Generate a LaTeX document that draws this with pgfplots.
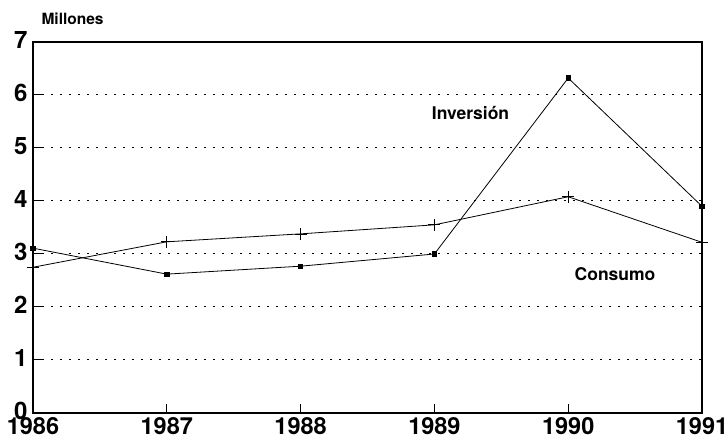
\documentclass[border=0pt]{standalone}
\usepackage{fontspec}
\setmainfont{TeX Gyre Heros}
\usepackage{pgfplots}
\pgfplotsset{compat=1.18}
\begin{document}
\begin{tikzpicture}
\begin{axis}[
  name=ax,
  scale only axis,
  width=669pt, height=371pt,
  xmin=1986, xmax=1991, ymin=0, ymax=7,
  xtick={1986,1987,1988,1989,1990,1991},
  ytick={0,1,2,3,4,5,6,7},
  x tick label style={/pgf/number format/1000 sep={}, font=\fontsize{23.5}{23.5}\selectfont\bfseries, yshift=-1pt},
  y tick label style={font=\fontsize{24}{24}\selectfont\bfseries, xshift=-2pt, yshift=2pt},
  /pgf/number format/assume math mode=true,
  tick align=inside, tick pos=left,
  major tick length=9pt,
  ymajorgrids, grid style={black, line width=1pt, dash pattern=on 2pt off 7pt},
  axis line style={line width=1.2pt},
  every tick/.style={black, line width=1pt},
  clip=false,
]
\addplot[black, line width=0.8pt, mark=square*, mark size=2.2pt] coordinates {
(1986,3.11) (1987,2.62) (1988,2.77) (1989,3.0) (1990,6.32) (1991,3.9)};
\addplot[black, line width=0.8pt, mark=+, mark size=6pt, mark options={line width=0.7pt}] coordinates {
(1986,2.75) (1987,3.23) (1988,3.38) (1989,3.55) (1990,4.08) (1991,3.22)};
\node[anchor=base west, font=\fontsize{15.5}{15.5}\selectfont\bfseries] at (rel axis cs:0,1) [xshift=5pt, yshift=17pt] {Millones};
\node[font=\fontsize{17.5}{17.5}\selectfont\bfseries] at (axis cs:1989.27,5.66) {Inversión};
\node[font=\fontsize{17.5}{17.5}\selectfont\bfseries] at (axis cs:1990.35,2.62) {Consumo};
\end{axis}
\pgfresetboundingbox
\path[use as bounding box] ([xshift=-33pt,yshift=-28pt]ax.south west) rectangle ([xshift=26pt,yshift=42pt]ax.north east);
\end{tikzpicture}
\end{document}
